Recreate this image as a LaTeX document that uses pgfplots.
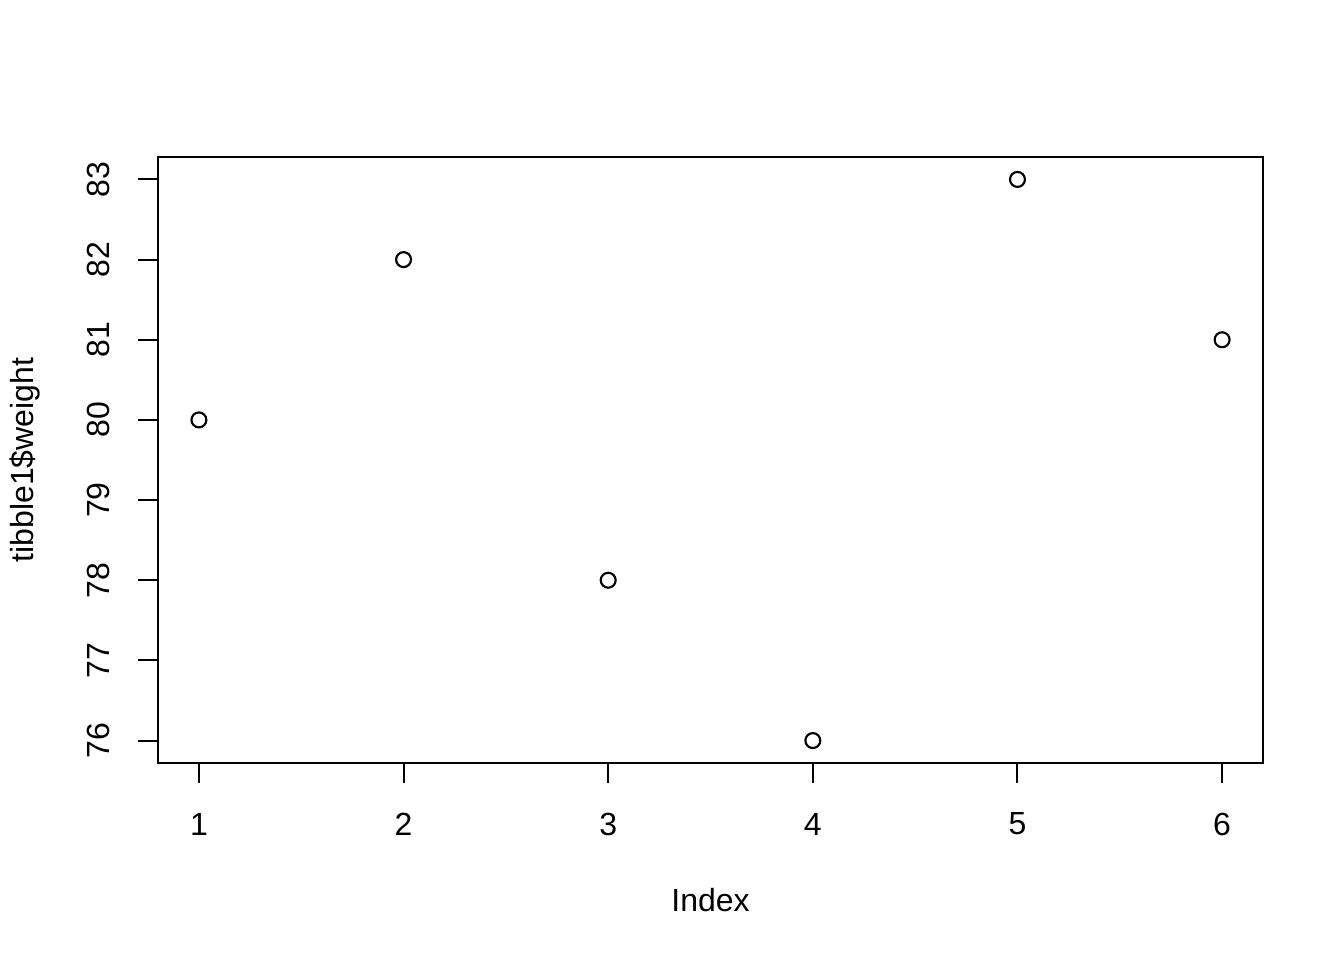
\documentclass[border=0pt]{standalone}
\usepackage{pgfplots}
\pgfplotsset{compat=1.18}
\usepackage{fontspec}
\setmainfont{Liberation Sans}
\begin{document}
\begin{tikzpicture}[x=1bp,y=1bp]
\path (0,0) rectangle (504,360);
\begin{axis}[
  at={(59.25bp,73.875bp)}, anchor=south west,
  scale only axis, width=414.375bp, height=227.25bp,
  xmin=0.8, xmax=6.2, ymin=75.72, ymax=83.28,
  axis line style={line width=0.75bp, black},
  every tick/.style={line width=0.75bp, black},
  major tick length=7.5bp,
  tick align=outside,
  xtick pos=lower, ytick pos=left,
  xtick={1,2,3,4,5,6}, ytick={76,77,78,79,80,81,82,83},
  /pgf/number format/assume math mode=true,
  ticklabel style={font=\fontsize{12bp}{14bp}\selectfont},
  xticklabel style={anchor=center, yshift=-15.4bp},
  yticklabel style={rotate=90, anchor=center, yshift=15bp},
  xlabel={Index}, ylabel={tibble1\$weight},
  label style={font=\fontsize{12bp}{14bp}\selectfont},
  xlabel style={at={(axis description cs:0.5,-0.226)}, anchor=center},
  ylabel style={at={(axis description cs:-0.1204,0.5)}, anchor=center, rotate=0},
  clip=false,
]
\addplot[only marks, mark=o, mark size=2.8bp, mark options={line width=0.8bp, draw=black, fill=none}] coordinates {
  (1,80) (2,82) (3,78) (4,76) (5,83) (6,81)
};
\end{axis}
\end{tikzpicture}
\end{document}
